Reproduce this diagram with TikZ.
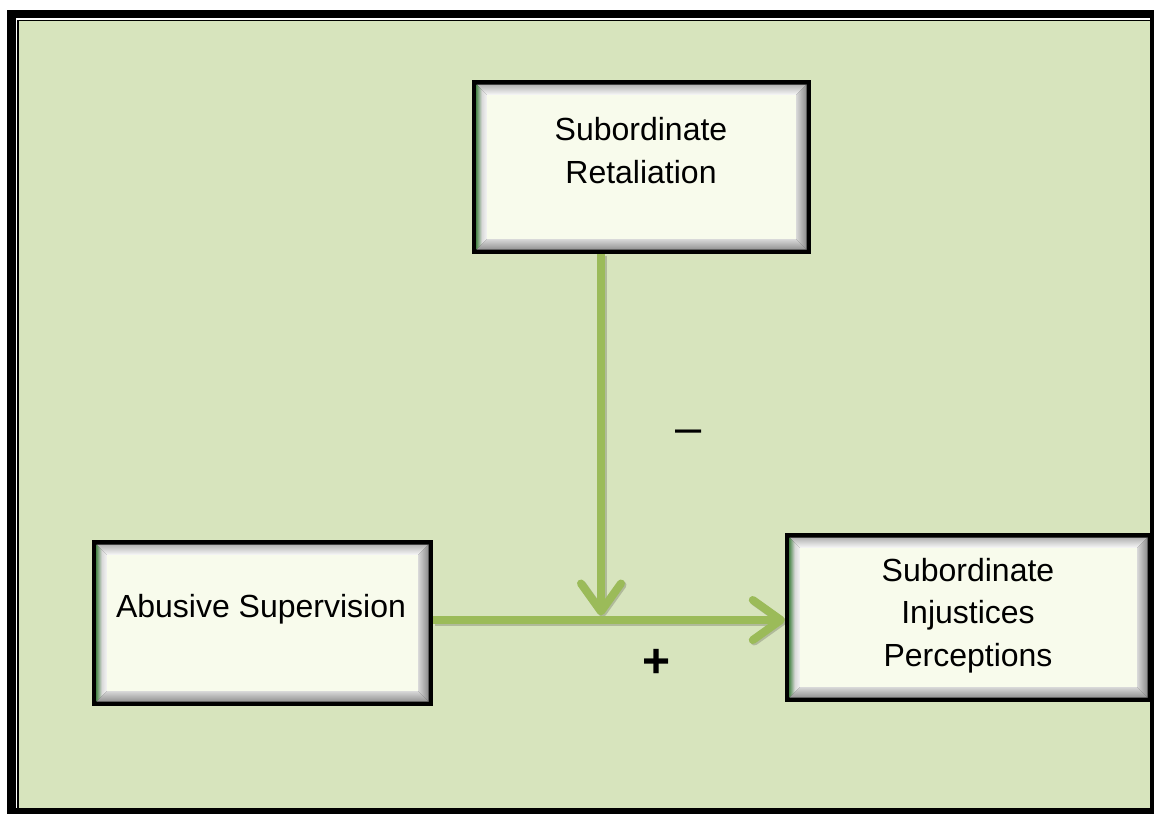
\documentclass[tikz,border=0pt]{standalone}
\usepackage{fontspec}
\setmainfont{Liberation Sans}
\usetikzlibrary{arrows.meta}

\definecolor{pagegreen}{HTML}{D7E4BD}
\definecolor{linkgreen}{HTML}{9BBB59}
\definecolor{facecream}{HTML}{F8FBEC}

\tikzset{
  % box with a black rim, a bevelled frame and a light face
  bevelbox/.style={rectangle, inner sep=0pt, fill=black,
    path picture={
      \coordinate (o1) at ([xshift=4.5pt,yshift=-4.5pt]path picture bounding box.north west);
      \coordinate (o2) at ([xshift=-4.5pt,yshift=-4.5pt]path picture bounding box.north east);
      \coordinate (o3) at ([xshift=-4.5pt,yshift=4.5pt]path picture bounding box.south east);
      \coordinate (o4) at ([xshift=4.5pt,yshift=4.5pt]path picture bounding box.south west);
      \coordinate (i1) at ([xshift=15pt,yshift=-15pt]path picture bounding box.north west);
      \coordinate (i2) at ([xshift=-15pt,yshift=-15pt]path picture bounding box.north east);
      \coordinate (i3) at ([xshift=-15pt,yshift=15pt]path picture bounding box.south east);
      \coordinate (i4) at ([xshift=15pt,yshift=15pt]path picture bounding box.south west);
      \shade[top color=gray!60, bottom color=white!96!gray] (o1) -- (o2) -- (i2) -- (i1) -- cycle;
      \shade[left color=gray!55!green!60!black!80, right color=white!92!gray, middle color=gray!30] (o1) -- (i1) -- (i4) -- (o4) -- cycle;
      \shade[left color=gray!30, right color=gray!90] (i2) -- (o2) -- (o3) -- (i3) -- cycle;
      \shade[top color=gray!30, bottom color=gray!85] (i4) -- (i3) -- (o3) -- (o4) -- cycle;
      \fill[facecream] (i1) rectangle (i3);
    }},
  boxtext/.style={inner sep=0pt, align=center, font=\fontsize{32}{42.5}\selectfont},
  link/.style={draw=linkgreen, line width=8pt,
    -{Straight Barb[length=28pt, width=40pt, round]}},
  linkshadow/.style={draw=black, opacity=0.18, line width=8pt,
    -{Straight Barb[length=28pt, width=40pt, round]},
    transform canvas={xshift=1.5pt, yshift=-1.5pt}},
  sign/.style={inner sep=0pt, anchor=base}
}

\begin{document}
\begin{tikzpicture}[x=1pt, y=-1pt]
  \useasboundingbox (0,0) rectangle (1157,814);
  \fill[white] (0,0) rectangle (1157,814);

  % page frame: thick outer rule, thin inner rule, green field
  \fill[black] (7,10) rectangle (1154,814);
  \fill[white] (15.5,18) rectangle (1150,808);
  \fill[black] (17,19.5) rectangle (1150,808);
  \fill[pagegreen] (19,21) rectangle (1150,808);

  % boxes
  \node[bevelbox, minimum width=339pt, minimum height=174pt] (ret) at (641.5,167) {};
  \node[bevelbox, minimum width=341pt, minimum height=166pt] (abu) at (262.5,623) {};
  \node[bevelbox, minimum width=367pt, minimum height=169pt] (inj) at (968.5,617.5) {};

  % box texts
  \node[boxtext] (rettxt) at (641,150.8) {Subordinate\\Retaliation};
  \node[boxtext] (abutxt) at (261,608.8) {Abusive Supervision};
  \node[boxtext] (injtxt) at (968,615.6) {Subordinate\\Injustices\\Perceptions};

  % junction of the moderating path with the main path
  \coordinate (h) at (601,620);
  \coordinate (j) at ([yshift=4.5pt]h);

  % connectors
  \draw[linkshadow] (abu.east |- h) -- (inj.west |- h);
  \draw[linkshadow] (j |- ret.south) -- (j);
  \draw[link] (abu.east |- h) -- (inj.west |- h);
  \draw[link] (j |- ret.south) -- (j);

  % signs
  \node[sign, font=\fontsize{47}{47}\selectfont] (minus) at (689,443) {–};
  \node[sign, font=\fontsize{48}{48}\selectfont\bfseries] (plus) at (657,677) {+};
\end{tikzpicture}
\end{document}
